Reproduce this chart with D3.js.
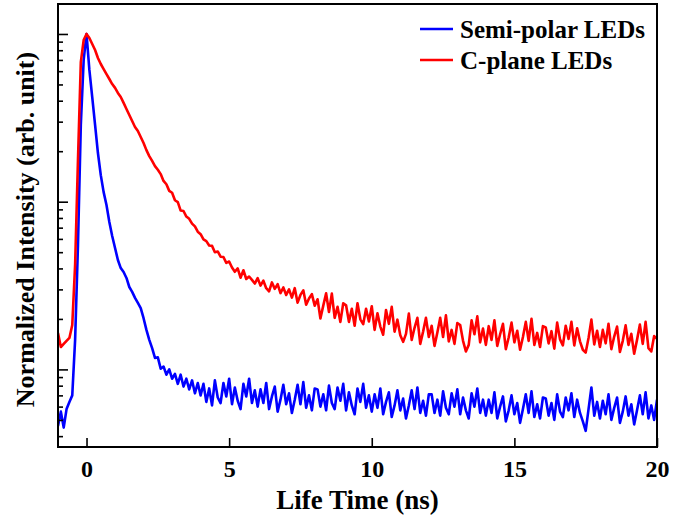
<!DOCTYPE html>
<html>
<head>
<meta charset="utf-8">
<script src="https://cdn.jsdelivr.net/npm/d3@7"></script>
<style>
  body { margin: 0; background: #fff; }
  svg text { font-family: "Liberation Serif", "Times New Roman", serif; font-weight: bold; fill: #000; }
</style>
</head>
<body>
<div id="chart"></div>
<script>
// Sampling grid of the decay traces (ns)
var timeStart = -1.0, timeStep = 0.1;

// Semi-polar LEDs, normalized intensity, one value per 0.1 ns from -1.0 to 20.0
var semiPolar = [
  0.0046, 0.0056, 0.0045, 0.0058, 0.0064,
  0.0070, 0.0150, 0.055, 0.287, 0.70,
  1.0, 0.61, 0.42, 0.287, 0.195, 0.144, 0.114, 0.0955, 0.0757, 0.0624,
  0.0529, 0.0449, 0.0402, 0.0381, 0.0351, 0.0310, 0.0290, 0.0267, 0.0249, 0.0232,
  0.0202, 0.0172, 0.0150, 0.0134, 0.0117, 0.0118, 0.0101, 0.0104, 0.0093, 0.0100,
  0.0088, 0.0094, 0.0082, 0.0093, 0.0079, 0.0088, 0.0076, 0.0086, 0.0072, 0.0083,
  0.0070,
  0.0082, 0.0064, 0.0077, 0.0061, 0.0086, 0.0068, 0.0063, 0.0083, 0.0069, 0.0088,
  0.0062, 0.0078, 0.0065, 0.0058, 0.0082, 0.0069, 0.0088, 0.0063, 0.0075, 0.0060,
  0.0076, 0.0063, 0.0083, 0.0058, 0.0069, 0.0079, 0.0056, 0.0066, 0.0081, 0.0062,
  0.0072, 0.0055, 0.0066, 0.0081, 0.0062, 0.0084, 0.0059, 0.0070, 0.0057, 0.0077,
  0.0076, 0.0060, 0.0071, 0.0057, 0.0080, 0.0063, 0.0058, 0.0078, 0.0065, 0.0082,
  0.0057, 0.0073, 0.0061, 0.0054, 0.0077, 0.0064, 0.0082, 0.0059, 0.0070, 0.0056,
  0.0071, 0.0059, 0.0077, 0.0054, 0.0064, 0.0073, 0.0052, 0.0061, 0.0075, 0.0057,
  0.0067, 0.0051, 0.0061, 0.0075, 0.0058, 0.0078, 0.0055, 0.0065, 0.0053, 0.0071,
  0.0071, 0.0055, 0.0066, 0.0053, 0.0074, 0.0059, 0.0054, 0.0072, 0.0060, 0.0076,
  0.0054, 0.0068, 0.0057, 0.0051, 0.0072, 0.0060, 0.0077, 0.0055, 0.0066, 0.0053,
  0.0066, 0.0055, 0.0073, 0.0051, 0.0060, 0.0069, 0.0049, 0.0057, 0.0070, 0.0054,
  0.0063, 0.0048, 0.0058, 0.0071, 0.0055, 0.0074, 0.0052, 0.0062, 0.0051, 0.0068,
  0.0067, 0.0053, 0.0063, 0.0050, 0.0071, 0.0056, 0.0052, 0.0068, 0.0057, 0.0072,
  0.0052, 0.0066, 0.0055, 0.0049, 0.0043, 0.0058, 0.0078, 0.0053, 0.0064, 0.0051,
  0.0065, 0.0054, 0.0071, 0.0050, 0.0059, 0.0068, 0.0048, 0.0056, 0.0069, 0.0053,
  0.0062, 0.0047, 0.0057, 0.0070, 0.0054, 0.0073, 0.0051, 0.0061, 0.0050, 0.0066
];

// C-plane LEDs, same grid
var cPlane = [
  0.0165, 0.0136, 0.0142, 0.0148, 0.0154, 0.0184, 0.0420, 0.177, 0.68, 0.92,
  1.0, 0.946, 0.871, 0.803, 0.719, 0.662, 0.618, 0.577, 0.539, 0.503,
  0.477, 0.445, 0.421, 0.388, 0.357, 0.329, 0.303, 0.279, 0.264, 0.243,
  0.224, 0.203, 0.187, 0.175, 0.163, 0.155, 0.146, 0.133, 0.127, 0.116,
  0.113, 0.102, 0.0995, 0.0885, 0.0880, 0.0815, 0.0790, 0.0740, 0.0712, 0.0662,
  0.0640, 0.0596, 0.0582, 0.0548, 0.0545, 0.0500, 0.0505, 0.0470, 0.0468, 0.0432,
  0.0440,
  0.0405, 0.0382, 0.0400, 0.0352, 0.0390, 0.0346, 0.0358, 0.0342, 0.0325, 0.0350,
  0.0316, 0.0338, 0.0305, 0.0292, 0.0330, 0.0302, 0.0322, 0.0285, 0.0308, 0.0278,
  0.0300, 0.0268, 0.0305, 0.0250, 0.0278, 0.0296, 0.0243, 0.0265, 0.0281, 0.0240,
  0.0262, 0.0201, 0.0240, 0.0284, 0.0220, 0.0283, 0.0203, 0.0236, 0.0192, 0.0248,
  0.0241, 0.0192, 0.0230, 0.0182, 0.0248, 0.0199, 0.0186, 0.0230, 0.0193, 0.0238,
  0.0172, 0.0216, 0.0180, 0.0161, 0.0226, 0.0187, 0.0236, 0.0168, 0.0198, 0.0160,
  0.0146, 0.0163, 0.0215, 0.0150, 0.0177, 0.0203, 0.0142, 0.0168, 0.0203, 0.0156,
  0.0182, 0.0138, 0.0166, 0.0203, 0.0156, 0.0210, 0.0147, 0.0172, 0.0142, 0.0189,
  0.0184, 0.0148, 0.0128, 0.0140, 0.0196, 0.0162, 0.0207, 0.0145, 0.0175, 0.0140,
  0.0181, 0.0150, 0.0196, 0.0138, 0.0162, 0.0187, 0.0132, 0.0155, 0.0190, 0.0145,
  0.0170, 0.0131, 0.0156, 0.0192, 0.0148, 0.0200, 0.0140, 0.0165, 0.0136, 0.0181,
  0.0178, 0.0143, 0.0169, 0.0133, 0.0190, 0.0151, 0.0139, 0.0182, 0.0152, 0.0192,
  0.0139, 0.0176, 0.0147, 0.0131, 0.0126, 0.0154, 0.0198, 0.0141, 0.0170, 0.0136,
  0.0172, 0.0143, 0.0187, 0.0132, 0.0157, 0.0180, 0.0127, 0.0148, 0.0183, 0.0140,
  0.0163, 0.0124, 0.0150, 0.0185, 0.0142, 0.0192, 0.0134, 0.0128, 0.0158, 0.0152
];

var xTicks = [0, 5, 10, 15, 20];
var yMajor = [0.01, 0.1, 1];
var seriesNames = ["Semi-polar LEDs", "C-plane LEDs"];
var seriesColors = ["#0000ff", "#ff0000"];

var W = 686, H = 519;
var margin = { top: 4, right: 29, bottom: 72, left: 58 };
var width = W - margin.left - margin.right,
    height = H - margin.top - margin.bottom;

var svg = d3.select("#chart").append("svg")
    .attr("width", W)
    .attr("height", H);

var g = svg.append("g")
    .attr("transform", "translate(" + margin.left + "," + margin.top + ")");

var x = d3.scaleLinear().domain([-1, 20]).range([0, width]);
var y = d3.scaleLog().domain([0.003446, 1.509]).range([height, 0]);

// minor ticks: 2..9 of every decade inside the domain
var yMinor = [];
[0.001, 0.01, 0.1, 1].forEach(function(dec) {
    for (var k = 2; k <= 9; k++) {
        var v = dec * k;
        if (v >= y.domain()[0] && v <= y.domain()[1]) yMinor.push(v);
    }
});

g.append("clipPath").attr("id", "plotclip")
  .append("rect").attr("width", width).attr("height", height);

var line = d3.line()
    .x(function(d) { return x(d.t); })
    .y(function(d) { return y(d.v); });

[semiPolar, cPlane].forEach(function(vals, i) {
    var pts = vals.map(function(v, j) { return { t: timeStart + j * timeStep, v: v }; });
    g.append("path")
        .datum(pts)
        .attr("clip-path", "url(#plotclip)")
        .attr("fill", "none")
        .attr("stroke", seriesColors[i])
        .attr("stroke-width", 2.6)
        .attr("stroke-linejoin", "round")
        .attr("d", line);
});

// x axis, ticks pointing inward
var xAxis = g.append("g")
    .attr("transform", "translate(0," + height + ")")
    .call(d3.axisBottom(x).tickValues(xTicks).tickSize(-9).tickPadding(20).tickFormat(d3.format("d")));
xAxis.select(".domain").remove();
xAxis.selectAll("line").attr("stroke", "#000").attr("stroke-width", 1.6);
xAxis.selectAll("text").style("font-size", "24px").attr("dy", "0.4em");

// y axis: no labels, major and minor inward ticks
var yAxisMajor = g.append("g")
    .call(d3.axisLeft(y).tickValues(yMajor).tickSize(-10).tickFormat(""));
yAxisMajor.select(".domain").remove();
yAxisMajor.selectAll("line").attr("stroke", "#000").attr("stroke-width", 1.6);

var yAxisMinor = g.append("g")
    .call(d3.axisLeft(y).tickValues(yMinor).tickSize(-5).tickFormat(""));
yAxisMinor.select(".domain").remove();
yAxisMinor.selectAll("line").attr("stroke", "#000").attr("stroke-width", 1.6);

// frame
g.append("rect")
    .attr("width", width)
    .attr("height", height)
    .attr("fill", "none")
    .attr("stroke", "#000")
    .attr("stroke-width", 2);

// axis titles
svg.append("text")
    .attr("x", margin.left + width / 2)
    .attr("y", 509)
    .attr("text-anchor", "middle")
    .style("font-size", "27px")
    .text("Life Time (ns)");

svg.append("text")
    .attr("transform", "translate(34," + (margin.top + height / 2 + 4) + ") rotate(-90)")
    .attr("text-anchor", "middle")
    .style("font-size", "26px")
    .text("Normalized Intensity (arb. unit)");

// legend
var legend = svg.selectAll(".legend")
    .data(seriesNames)
    .enter().append("g")
    .attr("class", "legend")
    .attr("transform", function(d, i) { return "translate(420," + (29 + i * 31) + ")"; });

legend.append("line")
    .attr("x1", 0).attr("x2", 33)
    .attr("stroke", function(d, i) { return seriesColors[i]; })
    .attr("stroke-width", 2.6);

legend.append("text")
    .attr("x", 40)
    .attr("y", 9)
    .style("font-size", "25px")
    .text(function(d) { return d; });
</script>
</body>
</html>
